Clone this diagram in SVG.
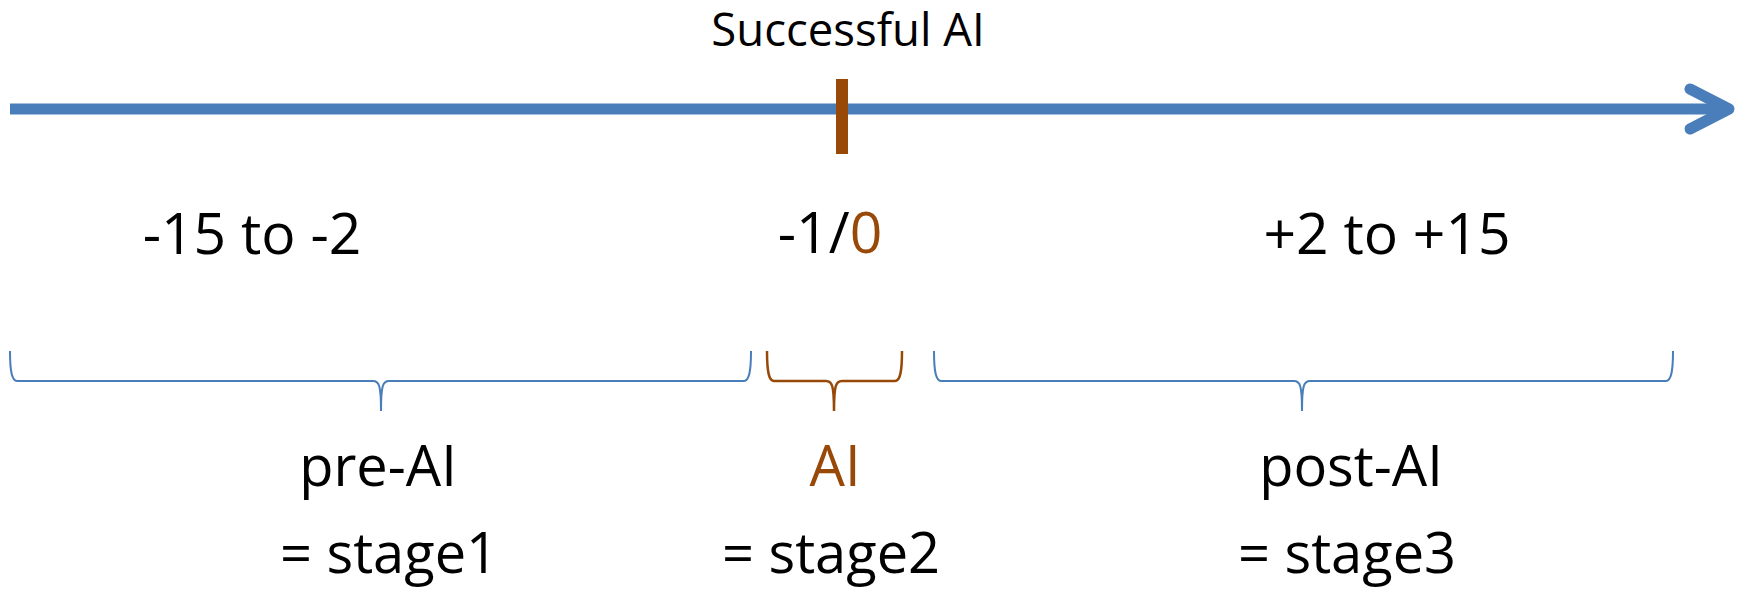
<svg xmlns="http://www.w3.org/2000/svg" width="1740" height="590" viewBox="0 0 1740 590">
<style>
text{font-family:"Open Sans","Liberation Sans",sans-serif;fill:#000;text-anchor:middle}
.big{font-size:57px}
.mid{font-size:56px}
.brown{fill:#984807}
.bb{fill:none;stroke:#4A7EBB;stroke-width:2}
.br{fill:none;stroke:#984807;stroke-width:2.5}
</style>
<rect width="1740" height="590" fill="#fff"/>
<g id="connectors">
<line x1="10" y1="109" x2="1726" y2="109" stroke="#4A7EBB" stroke-width="11"/>
<polyline points="1690,89 1729,109 1690,129" fill="none" stroke="#4A7EBB" stroke-width="11" stroke-linecap="round" stroke-linejoin="round"/>
</g>
<g id="tick"><rect x="836" y="79" width="12" height="75" fill="#984807"/></g>
<g id="title"><text x="848" y="46" style="font-size:45.5px">Successful AI</text></g>
<g id="range1"><text class="big" x="252" y="254">-15 to -2</text></g>
<g id="range2"><text class="big" x="830" y="253">-1/<tspan class="brown">0</tspan></text></g>
<g id="range3"><text class="big" x="1387" y="254">+2 to +15</text></g>
<g id="brace1"><path class="bb" d="M10,351 C10,372 12,381 17,381 L373,381 C379,381 381,385 381,411 C381,385 383,381 389,381 L744,381 C749,381 751,372 751,351"/></g>
<g id="brace2"><path class="br" d="M767,351 C767,372 769,381 774,381 L826,381 C832,381 834,385 834,411 C834,385 836,381 842,381 L895,381 C900,381 902,372 902,351"/></g>
<g id="brace3"><path class="bb" d="M934,351 C934,372 936,381 941,381 L1294,381 C1300,381 1302,385 1302,411 C1302,385 1304,381 1310,381 L1666,381 C1671,381 1673,372 1673,351"/></g>
<g id="stage1"><text class="mid" x="378" y="486">pre-AI</text><text class="mid" x="389" y="573">= stage1</text></g>
<g id="stage2"><text class="mid brown" x="835" y="486">AI</text><text class="mid" x="831" y="573">= stage2</text></g>
<g id="stage3"><text class="mid" x="1351" y="486">post-AI</text><text class="mid" x="1347" y="573">= stage3</text></g>
</svg>
